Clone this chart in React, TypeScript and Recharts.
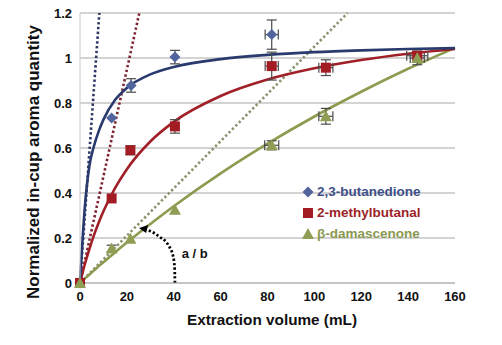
import React from "react";
import {
  ComposedChart,
  Line,
  Scatter,
  ErrorBar,
  XAxis,
  YAxis,
  CartesianGrid,
  ReferenceDot,
  Label,
  Legend,
} from "recharts";

// measured points (extraction volume, mL)
const blueX = [0, 13.5, 21.8, 40.5, 81.8];
const blueY = [0, 0.733, 0.878, 1.004, 1.104];
const blueErrY = [null, null, 0.03, 0.03, 0.065];
const blueErrX = [null, null, null, null, 2.8];

const pointX = [0, 13.5, 21.5, 40.5, 81.8, 104.9, 143.9];
const redY = [0, 0.376, 0.59, 0.696, 0.964, 0.957, 1.01];
const redErrY = [null, null, 0.02, 0.03, 0.062, 0.035, 0.02];
const redErrX = [null, null, null, null, 2.8, 3, 4.5];
const greenY = [0, 0.153, 0.197, 0.326, 0.612, 0.741, 1.0];
const greenErrY = [null, 0.015, null, null, 0.02, 0.035, 0.03];
const greenErrX = [null, null, null, null, 3, 3, 3];

// fitted curves
const curveX = [0, 2, 4, 6, 8, 10, 15, 20, 30, 40, 60, 80, 100, 120, 140, 160];
const blueFit = [0, 0.33, 0.52, 0.61, 0.675, 0.726, 0.814, 0.867, 0.927, 0.96, 0.995, 1.014, 1.026, 1.034, 1.04, 1.044];
const redFit = [0, 0.081, 0.151, 0.214, 0.269, 0.319, 0.423, 0.506, 0.629, 0.716, 0.831, 0.904, 0.954, 0.991, 1.019, 1.04];
const greenFit = [0, 0.019, 0.038, 0.056, 0.075, 0.092, 0.137, 0.18, 0.262, 0.341, 0.487, 0.619, 0.74, 0.85, 0.952, 1.045];

// initial-slope dotted lines: [x at 0, x at 1.2]
const tangentY = [0, 1.2];
const blueTangentX = [0, 8.25];
const redTangentX = [0, 25.3];
const greenTangentX = [0, 114.2];

// "a / b" arrow
const arrowX = [40.5, 40.4, 39.8, 37.7, 34.1, 29.9, 26.5];
const arrowY = [0, 0.06, 0.116, 0.168, 0.204, 0.231, 0.242];
const arrowTip = { x: 25.2, y: 0.244 };
const noteAt = { x: 43.4, y: 0.133 };

const xTicks = [0, 20, 40, 60, 80, 100, 120, 140, 160];
const yTicks = [0, 0.2, 0.4, 0.6, 0.8, 1, 1.2];

const legendItems = [
  { name: "2,3-butanedione", color: "#3e4f88", mark: "#52649d", shape: "diamond" },
  { name: "2-methylbutanal", color: "#9d1f28", mark: "#a31c24", shape: "square" },
  { name: "\u03b2-damascenone", color: "#8a9950", mark: "#8f9d55", shape: "triangle" },
];

const FONT = "'Liberation Sans', Arial, Helvetica, sans-serif";

const zip = (xs: number[], ys: number[]) => xs.map((x, i) => ({ x, y: ys[i] }));
const points = (xs: number[], ys: number[], ey: (number | null)[], ex: (number | null)[]) =>
  xs.map((x, i) => ({ x, y: ys[i], ey: ey[i], ex: ex[i] }));

const blueData = points(blueX, blueY, blueErrY, blueErrX);
const redData = points(pointX, redY, redErrY, redErrX);
const greenData = points(pointX, greenY, greenErrY, greenErrX);

const Diamond = ({ cx, cy, fill }: any) => (
  <polygon points={`${cx},${cy - 5.5} ${cx + 5.5},${cy} ${cx},${cy + 5.5} ${cx - 5.5},${cy}`} fill={fill} />
);
const Square = ({ cx, cy, fill }: any) => (
  <rect x={cx - 5} y={cy - 5} width={10} height={10} fill={fill} />
);
const Triangle = ({ cx, cy, fill }: any) => (
  <polygon points={`${cx},${cy - 6} ${cx + 6},${cy + 5} ${cx - 6},${cy + 5}`} fill={fill} />
);

const ArrowHead = ({ cx, cy }: any) => (
  <polygon
    points={`${cx},${cy} ${cx + 9},${cy - 3} ${cx + 7},${cy + 5}`}
    fill="#000"
  />
);

const NoteText = ({ cx, cy }: any) => (
  <text x={cx} y={cy} dy="0.35em" fontFamily={FONT} fontWeight="bold" fontSize={13} fill="#111">
    a / b
  </text>
);

const LegendBox = () => (
  <div style={{ fontFamily: FONT, fontWeight: "bold", fontSize: 13.5, lineHeight: "21px" }}>
    {legendItems.map((it) => (
      <div key={it.name} style={{ display: "flex", alignItems: "center", color: it.color }}>
        <svg width={12} height={12} style={{ marginRight: 3 }}>
          {it.shape === "diamond" && <Diamond cx={6} cy={6} fill={it.mark} />}
          {it.shape === "square" && <Square cx={6} cy={6} fill={it.mark} />}
          {it.shape === "triangle" && <Triangle cx={6} cy={6} fill={it.mark} />}
        </svg>
        {it.name}
      </div>
    ))}
  </div>
);

const errStroke = "#4a4a4a";

export default function App() {
  return (
    <div style={{ position: "absolute", left: 0, top: 0, width: 502, height: 345, background: "#fff" }}>
      <ComposedChart width={502} height={345} margin={{ top: 13, right: 47, bottom: 32, left: 0 }}>
        <CartesianGrid vertical={false} stroke="#a8a8a8" strokeWidth={1.2} />
        <XAxis
          dataKey="x"
          type="number"
          domain={[0, 160]}
          ticks={xTicks}
          height={30}
          tickSize={0}
          tickMargin={9}
          stroke="#b5b5b5"
          tick={{ fill: "#111", fontSize: 13, fontWeight: "bold", fontFamily: FONT }}
        >
          <Label
            content={() => (
              <text x={272} y={320} dy="0.35em" textAnchor="middle" fontFamily={FONT} fontWeight="bold" fontSize={15.3} fill="#111">
                Extraction volume (mL)
              </text>
            )}
          />
        </XAxis>
        <YAxis
          dataKey="y"
          type="number"
          domain={[0, 1.2]}
          ticks={yTicks}
          width={80}
          tickSize={0}
          tickMargin={8}
          stroke="#c8c8c8"
          tick={{ fill: "#111", fontSize: 13, fontWeight: "bold", fontFamily: FONT }}
        >
          <Label
            content={() => (
              <text
                x={33}
                y={162}
                dy="0.35em"
                textAnchor="middle"
                transform="rotate(-90 33 162)"
                fontFamily={FONT}
                fontWeight="bold"
                fontSize={17}
                fill="#111"
              >
                Normalized in-cup aroma quantity
              </text>
            )}
          />
        </YAxis>

        <Line data={zip(blueTangentX, tangentY)} dataKey="y" stroke="#2a3565" strokeWidth={2.6} strokeDasharray="2.4 2.4" dot={false} isAnimationActive={false} />
        <Line data={zip(redTangentX, tangentY)} dataKey="y" stroke="#7e2430" strokeWidth={2.6} strokeDasharray="2.4 2.4" dot={false} isAnimationActive={false} />
        <Line data={zip(greenTangentX, tangentY)} dataKey="y" stroke="#8a9570" strokeWidth={2.6} strokeDasharray="2.4 2.4" dot={false} isAnimationActive={false} />

        <Line data={zip(curveX, greenFit)} dataKey="y" type="monotone" stroke="#8b9b4f" strokeWidth={2.6} dot={false} isAnimationActive={false} />
        <Line data={zip(curveX, redFit)} dataKey="y" type="monotone" stroke="#a11f27" strokeWidth={2.6} dot={false} isAnimationActive={false} />
        <Line data={zip(curveX, blueFit)} dataKey="y" type="monotone" stroke="#283a6e" strokeWidth={2.6} dot={false} isAnimationActive={false} />

        <Line data={zip(arrowX, arrowY)} dataKey="y" type="monotone" stroke="#000" strokeWidth={2.8} strokeDasharray="2.2 2.2" dot={false} isAnimationActive={false} />
        <ReferenceDot x={arrowTip.x} y={arrowTip.y} r={0} shape={ArrowHead} ifOverflow="visible" />
        <ReferenceDot x={noteAt.x} y={noteAt.y} r={0} shape={NoteText} ifOverflow="visible" />

        <Scatter data={blueData} dataKey="y" fill="#52649d" shape={Diamond} isAnimationActive={false}>
          <ErrorBar dataKey="ey" direction="y" width={5} stroke={errStroke} strokeWidth={1.2} />
          <ErrorBar dataKey="ex" direction="x" width={5} stroke={errStroke} strokeWidth={1.2} />
        </Scatter>
        <Scatter data={redData} dataKey="y" fill="#a31c24" shape={Square} isAnimationActive={false}>
          <ErrorBar dataKey="ey" direction="y" width={5} stroke={errStroke} strokeWidth={1.2} />
          <ErrorBar dataKey="ex" direction="x" width={5} stroke={errStroke} strokeWidth={1.2} />
        </Scatter>
        <Scatter data={greenData} dataKey="y" fill="#8f9d55" shape={Triangle} isAnimationActive={false}>
          <ErrorBar dataKey="ey" direction="y" width={5} stroke={errStroke} strokeWidth={1.2} />
          <ErrorBar dataKey="ex" direction="x" width={5} stroke={errStroke} strokeWidth={1.2} />
        </Scatter>

        <Legend
          layout="horizontal"
          verticalAlign="middle"
          align="center"
          content={LegendBox}
          wrapperStyle={{ left: 302, top: 181, width: 140 }}
        />
      </ComposedChart>
    </div>
  );
}
